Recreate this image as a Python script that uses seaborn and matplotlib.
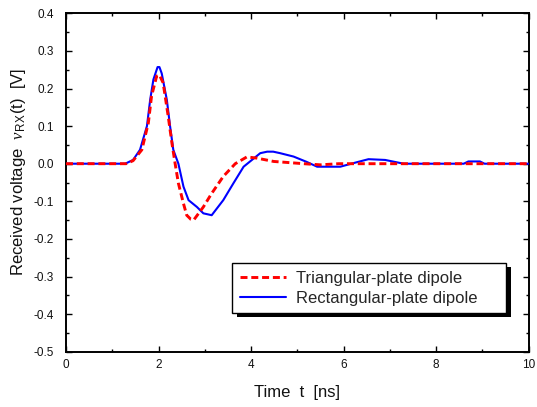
import numpy as np
import pandas as pd
import matplotlib
matplotlib.use("Agg")
import matplotlib.pyplot as plt
import seaborn as sns
from matplotlib.patches import Rectangle
from matplotlib.ticker import MultipleLocator

# ---- data ----
tri_t = [0, 1.3, 1.45, 1.64, 1.78, 1.85, 1.96, 2.02, 2.1, 2.21, 2.29, 2.36,
         2.43, 2.54, 2.61, 2.70, 2.76, 2.85, 2.97, 3.15, 3.40, 3.66, 3.91,
         4.12, 4.49, 5.14, 5.5, 5.9, 10]
tri_v = [0, 0, 0.008, 0.037, 0.108, 0.18, 0.233, 0.236, 0.215, 0.126, 0.055, 0,
         -0.052, -0.106, -0.137, -0.148, -0.150, -0.135, -0.115, -0.079, -0.034, 0, 0.018,
         0.015, 0.006, 0, -0.003, 0, 0]

rect_t = [0, 1.28, 1.45, 1.6, 1.75, 1.82, 1.89, 1.98, 2.02, 2.07, 2.18, 2.25,
          2.32, 2.43, 2.54, 2.65, 2.83, 2.97, 3.15, 3.40, 3.62, 3.84, 4.2, 4.35,
          4.48, 4.63, 4.92, 5.2, 5.43, 5.93, 6.29, 6.54, 6.9, 7.3, 8.6, 8.7,
          8.95, 9.05, 10]
rect_v = [0, 0, 0.01, 0.037, 0.10, 0.17, 0.224, 0.257, 0.257, 0.24, 0.17, 0.10,
          0.037, 0, -0.061, -0.097, -0.115, -0.132, -0.137, -0.097, -0.052, -0.008, 0.028, 0.032,
          0.032, 0.028, 0.019, 0.005, -0.008, -0.008, 0.004, 0.012, 0.01, 0.0, 0.0, 0.006,
          0.006, 0.0, 0]

labels = ["Triangular-plate dipole", "Rectangular-plate dipole"]
xticks = [0, 2, 4, 6, 8, 10]
yticks = [-0.5, -0.4, -0.3, -0.2, -0.1, 0.0, 0.1, 0.2, 0.3, 0.4]

sns.set_theme(style="ticks")
plt.rcParams["font.family"] = ["Liberation Sans", "DejaVu Sans"]
plt.rcParams["mathtext.fontset"] = "custom"
plt.rcParams["mathtext.rm"] = "Liberation Sans"
plt.rcParams["mathtext.it"] = "Liberation Serif:italic"

fig = plt.figure(figsize=(5.37, 4.07), dpi=100)
ax = fig.add_axes([66 / 537, 1 - 351.7 / 407, 462.5 / 537, 338.4 / 407])

df_tri = pd.DataFrame({"t": tri_t, "v": tri_v})
df_rect = pd.DataFrame({"t": rect_t, "v": rect_v})

sns.lineplot(data=df_rect, x="t", y="v", ax=ax, color="#0000ff", lw=1.5,
             label=labels[1], zorder=3, sort=False)
sns.lineplot(data=df_tri, x="t", y="v", ax=ax, color="#ff0000", lw=2.1,
             label=labels[0], zorder=4, sort=False)
ax.lines[1].set_dashes((2.4, 1.3))

ax.set_xlim(0, 10)
ax.set_ylim(-0.5, 0.4)
ax.set_xticks(xticks)
ax.set_xticklabels([str(v) for v in xticks])
ax.set_yticks(yticks)
ax.set_yticklabels([f"{v:.1f}" for v in yticks])
ax.xaxis.set_minor_locator(MultipleLocator(1))
ax.yaxis.set_minor_locator(MultipleLocator(0.05))

for s in ax.spines.values():
    s.set_visible(True)
    s.set_linewidth(1.4)
    s.set_color("black")

ax.tick_params(which="both", direction="in", top=True, right=True,
               colors="black", labelcolor="#111111")
ax.tick_params(which="major", length=4.5, width=1.0, labelsize=8.5)
ax.tick_params(which="minor", length=2.5, width=1.0)
ax.tick_params(axis="x", which="major", pad=5)
ax.tick_params(axis="y", which="major", pad=8.5)

ax.set_xlabel("Time  t  [ns]", fontsize=12, color="#111111")
ax.set_ylabel(r"Received voltage  $\mathit{v}_{\mathrm{R\,X}}\mathrm{(t)}$  [V]",
              fontsize=12, color="#111111")
ax.xaxis.set_label_coords(0.5, -0.098)
ax.yaxis.set_label_coords(-0.083, 0.53)

handles, labs = ax.get_legend_handles_labels()
order = [labs.index(labels[0]), labs.index(labels[1])]
leg = ax.legend([handles[i] for i in order], [labs[i] for i in order],
                loc="lower left", bbox_to_anchor=(0.359, 0.114, 0.593, 0.1),
                mode="expand",
                fontsize=12, frameon=True, fancybox=False, framealpha=1,
                edgecolor="black", borderpad=0.45, handlelength=2.8,
                handletextpad=0.6, labelspacing=0.3, borderaxespad=0)
leg.get_frame().set_linewidth(1.0)
leg.set_zorder(10)

fig.canvas.draw()
bb = leg.get_window_extent()
inv = ax.transAxes.inverted()
(x0, y0) = inv.transform((bb.x0 + 5, bb.y0 - 4))
(x1, y1) = inv.transform((bb.x1 + 5, bb.y1 - 4))
ax.add_patch(Rectangle((x0, y0), x1 - x0, y1 - y0, transform=ax.transAxes,
                       facecolor="black", edgecolor="none", zorder=9, clip_on=False))

fig.savefig("out.png", dpi=100)
